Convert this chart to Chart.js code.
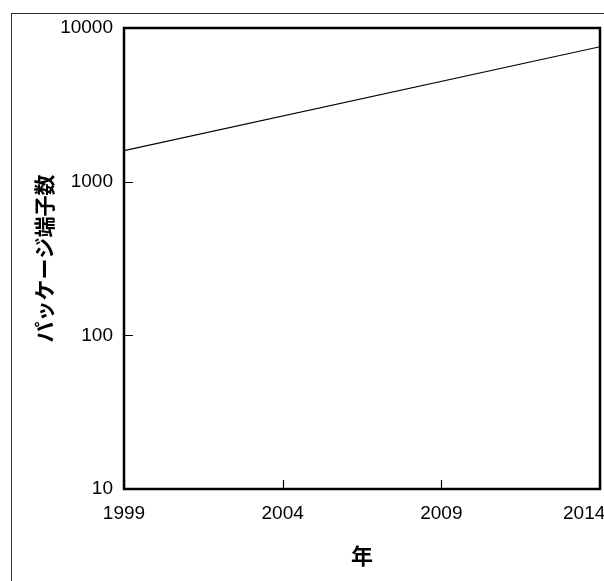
<!DOCTYPE html>
<html>
<head>
<meta charset="utf-8">
<script src="https://cdn.jsdelivr.net/npm/chart.js@4/dist/chart.umd.min.js"></script>
<style>
  html, body { margin: 0; padding: 0; background: #fff; }
  #wrap { position: relative; width: 604px; height: 581px; overflow: hidden; background: #fff; }
  #frame { position: absolute; left: 11px; top: 13px; width: 800px; height: 800px;
           border-top: 1px solid #333; border-left: 1px solid #333; }
  #chart { position: absolute; left: 0; top: 0; }
</style>
</head>
<body>
<div id="wrap">
  <div id="frame"></div>
  <canvas id="chart" width="640" height="581"></canvas>
</div>
<script>
// Package pin count trend
const years = [1999, 2014];
const pinCounts = [1590, 7550];
const xTickValues = [1999, 2004, 2009, 2014];
const yTickValues = [10, 100, 1000, 10000];
const xTitle = '年';
const yTitle = 'パッケージ端子数';

const points = years.map((y, i) => ({ x: y, y: pinCounts[i] }));

// Frame around the plot area with short inward tick marks
const plotFrame = {
  id: 'plotFrame',
  afterDraw(chart) {
    const { ctx, chartArea: a, scales } = chart;
    ctx.save();
    ctx.strokeStyle = '#000';
    ctx.lineWidth = 1.2;
    ctx.beginPath();
    yTickValues.forEach(v => {
      const py = Math.round(scales.y.getPixelForValue(v)) + 0.5;
      ctx.moveTo(a.left, py); ctx.lineTo(a.left + 9, py);
    });
    xTickValues.forEach(v => {
      const px = Math.round(scales.x.getPixelForValue(v)) + 0.5;
      ctx.moveTo(px, a.bottom); ctx.lineTo(px, a.bottom - 9);
    });
    ctx.stroke();
    ctx.lineWidth = 2.5;
    ctx.strokeRect(a.left, a.top, a.right - a.left, a.bottom - a.top);
    ctx.restore();
  }
};

new Chart(document.getElementById('chart'), {
  type: 'line',
  data: {
    datasets: [{
      data: points,
      borderColor: '#000',
      borderWidth: 1.2,
      pointRadius: 0,
      fill: false,
      tension: 0
    }]
  },
  options: {
    responsive: false,
    animation: false,
    layout: { padding: { top: 28, right: 40, bottom: 0, left: 0 } },
    plugins: { legend: { display: false }, tooltip: { enabled: false } },
    scales: {
      x: {
        type: 'linear',
        min: 1999,
        max: 2014,
        afterBuildTicks: s => { s.ticks = xTickValues.map(v => ({ value: v })); },
        afterFit: s => { s.height = 92; s.paddingLeft = 0; s.paddingRight = 0; },
        grid: { display: false, drawTicks: false },
        border: { display: false },
        ticks: {
          padding: 13,
          maxRotation: 0,
          autoSkip: false,
          color: '#000',
          font: { family: '"Liberation Sans", Arial, sans-serif', size: 19 },
          // the last year label is nudged inward with trailing spaces
          callback: (v, i, ticks) => i === ticks.length - 1 ? String(v) + '      ' : String(v)
        },
        title: {
          display: true,
          text: xTitle,
          color: '#000',
          padding: { top: 0, bottom: 12 },
          font: { family: '"Noto Sans CJK JP", sans-serif', size: 22, weight: 'bold' }
        }
      },
      y: {
        type: 'logarithmic',
        min: 10,
        max: 10000,
        afterBuildTicks: s => { s.ticks = yTickValues.map(v => ({ value: v })); },
        afterFit: s => { s.width = 124; },
        grid: { display: false, drawTicks: false },
        border: { display: false },
        ticks: {
          padding: 11,
          autoSkip: false,
          color: '#000',
          font: { family: '"Liberation Sans", Arial, sans-serif', size: 19 },
          callback: v => String(v)
        },
        title: {
          display: true,
          text: yTitle,
          color: '#000',
          padding: { top: 31, bottom: 0 },
          font: { family: '"Noto Sans CJK JP", sans-serif', size: 21, weight: 'bold' }
        }
      }
    }
  },
  plugins: [plotFrame]
});
</script>
</body>
</html>
